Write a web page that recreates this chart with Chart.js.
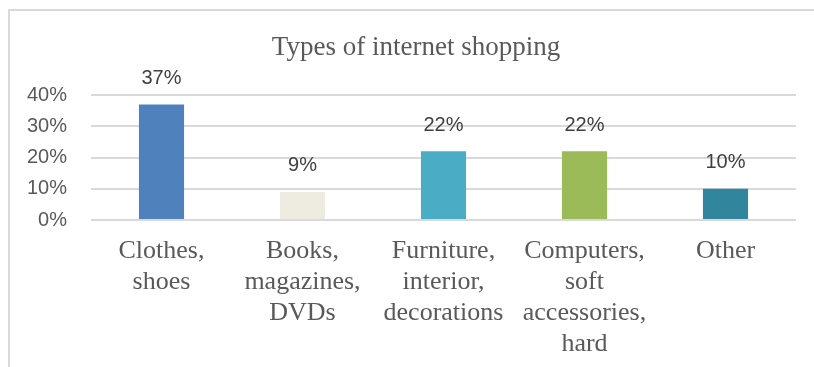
<!DOCTYPE html>
<html>
<head>
<meta charset="utf-8">
<script src="https://cdn.jsdelivr.net/npm/chart.js@4"></script>
<style>
  html, body { margin: 0; padding: 0; background: #fff; overflow: hidden; }
  #wrap { position: relative; width: 814px; height: 367px; }
  #frame { position: absolute; left: 8px; top: 9px; width: 820px; height: 380px;
           border: 2px solid #d9d9d9; box-sizing: border-box; }
  canvas { position: absolute; left: 0; top: 0; }
</style>
</head>
<body>
<div id="wrap">
  <div id="frame"></div>
  <canvas id="myBarChart" width="814" height="367"></canvas>
</div>
<script>
const chartTitle = 'Types of internet shopping';
const categories = [
  ['Clothes,', 'shoes'],
  ['Books,', 'magazines,', 'DVDs'],
  ['Furniture,', 'interior,', 'decorations'],
  ['Computers,', 'soft', 'accessories,', 'hard'],
  ['Other']
];
const shares = [37, 9, 22, 22, 10];
const barColors = ['#4f81bd', '#eeece1', '#4bacc6', '#9bbb59', '#31859c'];
const yTicks = [0, 10, 20, 30, 40];

// value labels above each bar, title centred on the frame
const valueLabels = {
  id: 'valueLabels',
  afterDatasetsDraw(chart) {
    const ctx = chart.ctx;
    const meta = chart.getDatasetMeta(0);
    ctx.save();
    ctx.font = '20px "Liberation Sans", sans-serif';
    ctx.fillStyle = '#404040';
    ctx.textAlign = 'center';
    ctx.textBaseline = 'middle';
    meta.data.forEach((bar, i) => {
      ctx.fillText(shares[i] + '%', bar.x, bar.y - 26);
    });

    ctx.font = '27px "Liberation Serif", serif';
    ctx.fillStyle = '#595959';
    ctx.fillText(chartTitle, 416, 48);
    ctx.restore();
  }
};

function createChart() {
  const ctx = document.getElementById('myBarChart').getContext('2d');
  new Chart(ctx, {
    type: 'bar',
    data: {
      labels: categories,
      datasets: [{
        data: shares,
        backgroundColor: barColors,
        borderWidth: 0,
        categoryPercentage: 1,
        barPercentage: 0.32
      }]
    },
    options: {
      responsive: false,
      animation: false,
      layout: { padding: { left: 0, right: 18, top: 95, bottom: 0 } },
      plugins: {
        legend: { display: false },
        tooltip: { enabled: false },
        title: { display: false }
      },
      scales: {
        x: {
          grid: { display: false, drawTicks: false },
          border: { display: false },
          ticks: {
            color: '#595959',
            font: { family: '"Liberation Serif", serif', size: 26, lineHeight: 1.19 },
            padding: 16,
            maxRotation: 0,
            autoSkip: false
          },
          afterFit(scale) { scale.height = 147; }
        },
        y: {
          min: 0,
          max: 40,
          afterBuildTicks(scale) { scale.ticks = yTicks.map(v => ({ value: v })); },
          grid: { color: '#d9d9d9', lineWidth: 2, drawTicks: false },
          border: { display: false },
          ticks: {
            color: '#595959',
            font: { family: '"Liberation Sans", sans-serif', size: 20 },
            padding: 24,
            callback: v => v + '%'
          },
          afterFit(scale) { scale.width = 91; }
        }
      }
    },
    plugins: [valueLabels]
  });
}

window.onload = createChart;
</script>
</body>
</html>
